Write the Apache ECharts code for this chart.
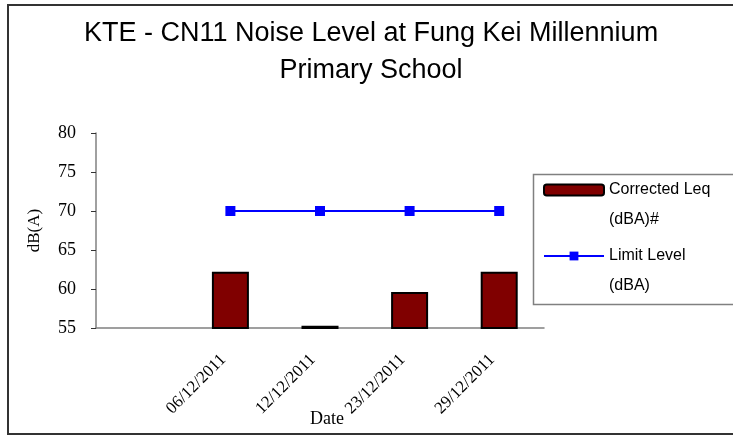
<!DOCTYPE html>
<html><head><meta charset="utf-8">
<script src="https://cdn.jsdelivr.net/npm/echarts@6/dist/echarts.min.js"></script>
<style>html,body{margin:0;padding:0;background:#fff}#c{width:733px;height:436px}</style>
</head><body><div id="c"></div>
<script>
const categories = ['', '06/12/2011', '12/12/2011', '23/12/2011', '29/12/2011'];
const correctedLeq = [null, 62.2, 55.3, 59.6, 62.2];
const limitLevel = [null, 70, 70, 70, 70];
const yTicks = { min: 55, max: 80, interval: 5 };

const chart = echarts.init(document.getElementById('c'), null, { renderer: 'canvas' });
chart.setOption({
  animation: false,
  backgroundColor: '#fff',
  title: {
    text: 'KTE - CN11 Noise Level at Fung Kei Millennium\nPrimary School',
    left: 366, textAlign: 'center', top: 10,
    textStyle: { fontFamily: '"Liberation Sans", Arial', fontSize: 27, fontWeight: 'normal', color: '#000', lineHeight: 37 }
  },
  graphic: [{
    type: 'rect', silent: true, z: -1,
    shape: { x: 8, y: 5, width: 800, height: 429 },
    style: { fill: 'none', stroke: '#333', lineWidth: 2 }
  }, {
    type: 'rect', silent: true, z: -1,
    shape: { x: 533.5, y: 174.5, width: 300, height: 130 },
    style: { fill: 'none', stroke: '#808080', lineWidth: 1.5 }
  }],
  legend: {
    orient: 'vertical', left: 543, top: 145,
    padding: 0,
    itemGap: -24,
    itemWidth: 60, itemHeight: 11,
    textStyle: { fontFamily: '"Liberation Sans", Arial', fontSize: 16, color: '#000', lineHeight: 30 },
    formatter: n => n === 'Corrected Leq (dBA)#' ? '\nCorrected Leq\n(dBA)#' : '\nLimit Level\n(dBA)',
    data: ['Corrected Leq (dBA)#', 'Limit Level (dBA)']
  },
  grid: { left: 96, right: 189, top: 133, bottom: 108, containLabel: false },
  xAxis: {
    type: 'category', data: categories, boundaryGap: true,
    name: 'Date', nameLocation: 'middle', nameGap: 82, nameMoveOverlap: false,
    nameTextStyle: { fontFamily: '"Liberation Serif", "Times New Roman"', fontSize: 18, color: '#000', padding: [0, 0, 0, 14] },
    axisLine: { lineStyle: { color: '#808080', width: 1.5 } },
    axisTick: { inside: true, length: 6, lineStyle: { color: '#333' } },
    axisLabel: { rotate: 45, interval: 0, margin: 22, padding: [0, 10, 0, 0], fontFamily: '"Liberation Serif", "Times New Roman"', fontSize: 17, color: '#000' }
  },
  yAxis: {
    type: 'value', min: yTicks.min, max: yTicks.max, interval: yTicks.interval,
    name: 'dB(A)', nameLocation: 'middle', nameGap: 53, nameRotate: 90, nameMoveOverlap: false,
    nameTextStyle: { fontFamily: '"Liberation Serif", "Times New Roman"', fontSize: 17, color: '#000' },
    axisLine: { show: true, lineStyle: { color: '#808080', width: 1.5 } },
    axisTick: { show: true, length: 5, lineStyle: { color: '#333' } },
    splitLine: { show: false },
    axisLabel: { margin: 20, fontFamily: '"Liberation Serif", "Times New Roman"', fontSize: 18, color: '#000' }
  },
  series: [{
    name: 'Corrected Leq (dBA)#', type: 'bar', data: correctedLeq, barWidth: 37,
    itemStyle: { color: '#800000', borderColor: '#000', borderWidth: 2 }
  }, {
    name: 'Limit Level (dBA)', type: 'line', data: limitLevel,
    symbol: 'rect', symbolSize: 10, showSymbol: true,
    lineStyle: { color: '#0000ff', width: 2 }, itemStyle: { color: '#0000ff' }
  }]
});
</script></body></html>
